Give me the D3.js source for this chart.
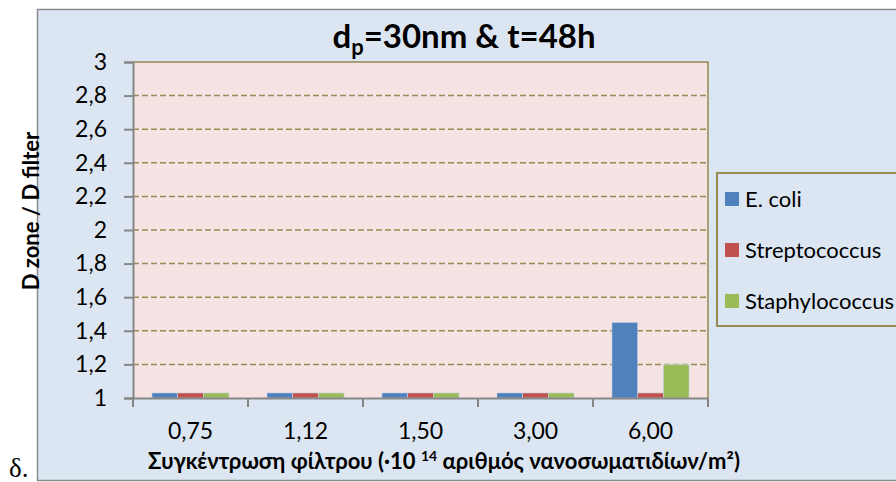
<!DOCTYPE html>
<html>
<head>
<meta charset="utf-8">
<script src="https://cdn.jsdelivr.net/npm/d3@7"></script>
<style>
  html, body { margin: 0; padding: 0; background: #ffffff; }
  svg { display: block; }
  text { font-family: Lato, "Open Sans", "Liberation Sans", sans-serif; }
</style>
</head>
<body>
<svg id="chart" width="896" height="482"></svg>
<script>
// Filter concentration categories (·10^14 nanoparticles/m²)
const categories = ["0,75", "1,12", "1,50", "3,00", "6,00"];
const seriesNames = ["E. coli", "Streptococcus", "Staphylococcus"];
const ecoli = [1.03, 1.03, 1.03, 1.03, 1.45];
const streptococcus = [1.03, 1.03, 1.03, 1.03, 1.03];
const staphylococcus = [1.03, 1.03, 1.03, 1.03, 1.20];
const yTicks = [1, 1.2, 1.4, 1.6, 1.8, 2, 2.2, 2.4, 2.6, 2.8, 3];
const colors = ["#4f81bd", "#c0504d", "#9bbb59"];

const seriesValues = [ecoli, streptococcus, staphylococcus];

const svg = d3.select("#chart");

// Outer chart area
svg.append("rect")
  .attr("x", 37.5).attr("y", 9.5).attr("width", 870).attr("height", 471)
  .attr("fill", "#dce6f2").attr("stroke", "#8c8c8c").attr("stroke-width", 1.5);

const plot = { left: 133, right: 708, top: 62, bottom: 398 };

const x = d3.scaleBand().domain(categories).range([plot.left, plot.right]).paddingInner(0).paddingOuter(0);
const groupPad = 0.165;
const xs = d3.scaleBand().domain(seriesNames)
  .range([x.bandwidth() * groupPad, x.bandwidth() * (1 - groupPad)]);
const y = d3.scaleLinear().domain([1, 3]).range([plot.bottom, plot.top]);

// Plot area
svg.append("rect")
  .attr("x", plot.left).attr("y", plot.top)
  .attr("width", plot.right - plot.left).attr("height", plot.bottom - plot.top)
  .attr("fill", "#f5e3e3");

// Dashed gridlines
svg.append("g").selectAll("line")
  .data(yTicks.filter(v => v > 1 && v < 3))
  .join("line")
  .attr("x1", plot.left).attr("x2", plot.right)
  .attr("y1", d => y(d)).attr("y2", d => y(d))
  .attr("stroke", "#948a54").attr("stroke-width", 1.5)
  .attr("stroke-dasharray", "6,3");

// Plot border: top and right
svg.append("path")
  .attr("d", `M${plot.left},${plot.top}H${plot.right}V${plot.bottom}`)
  .attr("fill", "none").attr("stroke", "#948a54").attr("stroke-width", 1.5);

// Bars
const groups = svg.append("g").selectAll("g")
  .data(categories)
  .join("g")
  .attr("transform", d => `translate(${x(d)},0)`);

groups.selectAll("rect")
  .data((d, i) => seriesNames.map((s, j) => ({ s, j, v: seriesValues[j][i] })))
  .join("rect")
  .attr("x", d => xs(d.s))
  .attr("width", xs.bandwidth())
  .attr("y", d => y(d.v))
  .attr("height", d => y(1) - y(d.v))
  .attr("fill", d => colors[d.j])
  .attr("stroke", "#c9d3e6").attr("stroke-width", 0.6);

// Y axis
const yAxis = svg.append("g")
  .attr("transform", `translate(${plot.left},0)`)
  .call(d3.axisLeft(y).tickValues(yTicks).tickSize(9).tickPadding(17)
    .tickFormat(d => String(d).replace(".", ",")));
yAxis.select(".domain").attr("stroke", "#868686").attr("stroke-width", 2);
yAxis.selectAll(".tick line").attr("stroke", "#868686").attr("stroke-width", 2);
yAxis.selectAll(".tick line").attr("x1", 0).attr("x2", -9);
yAxis.selectAll(".tick text")
  .attr("x", -26)
  .attr("font-size", 23).attr("fill", "#000")
  .style("font-family", "Lato, 'Open Sans', sans-serif");

// X axis
const xAxis = svg.append("g")
  .attr("transform", `translate(0,${plot.bottom})`)
  .call(d3.axisBottom(x).tickSize(0).tickPadding(25));
xAxis.select(".domain").attr("stroke", "#868686").attr("stroke-width", 2);
xAxis.selectAll(".tick text")
  .attr("font-size", 23).attr("fill", "#000")
  .style("font-family", "Lato, 'Open Sans', sans-serif");
// Category separators
svg.append("g").selectAll("line")
  .data(categories.map(c => x(c)).concat([plot.right]))
  .join("line")
  .attr("x1", d => d).attr("x2", d => d)
  .attr("y1", plot.bottom).attr("y2", plot.bottom + 9)
  .attr("stroke", "#868686").attr("stroke-width", 2);

// Title
const title = svg.append("text")
  .attr("x", 464).attr("y", 48)
  .attr("text-anchor", "middle")
  .attr("font-size", 33).attr("font-weight", "bold").attr("fill", "#000");
title.append("tspan").text("d");
title.append("tspan").attr("font-size", 22).attr("dy", 7).text("p");
title.append("tspan").attr("dy", -7).text("=30nm & t=48h");

// Y axis title
svg.append("text")
  .attr("transform", "translate(39,211) rotate(-90)")
  .attr("text-anchor", "middle")
  .attr("font-size", 22).attr("font-weight", "bold").attr("fill", "#000")
  .text("D zone / D filter");

// X axis title
const xt = svg.append("text")
  .attr("x", 444).attr("y", 469)
  .attr("text-anchor", "middle")
  .attr("font-size", 22).attr("font-weight", "bold").attr("fill", "#000");
xt.append("tspan").text("Συγκέντρωση φίλτρου (·10 ");
xt.append("tspan").attr("font-size", 14).attr("dy", -8).text("14");
xt.append("tspan").attr("dy", 8).text(" αριθμός νανοσωματιδίων/m²)");

// Legend
const legend = svg.append("g");
legend.append("rect")
  .attr("x", 717).attr("y", 173).attr("width", 200).attr("height", 153)
  .attr("fill", "#dce6f2").attr("stroke", "#948a54").attr("stroke-width", 2);
const items = legend.selectAll("g.item")
  .data(seriesNames)
  .join("g")
  .attr("class", "item")
  .attr("transform", (d, i) => `translate(725,${199 + i * 51})`);
items.append("rect")
  .attr("x", 0).attr("y", -7).attr("width", 14).attr("height", 14)
  .attr("fill", (d, i) => colors[i]);
items.append("text")
  .attr("x", 20).attr("y", 8)
  .attr("font-size", 22).attr("fill", "#000")
  .text(d => d);

// Panel label
svg.append("text")
  .attr("x", 9).attr("y", 477)
  .attr("font-size", 27).attr("fill", "#000")
  .style("font-family", "'Liberation Serif', 'DejaVu Serif', serif")
  .text("δ.");
</script>
</body>
</html>
